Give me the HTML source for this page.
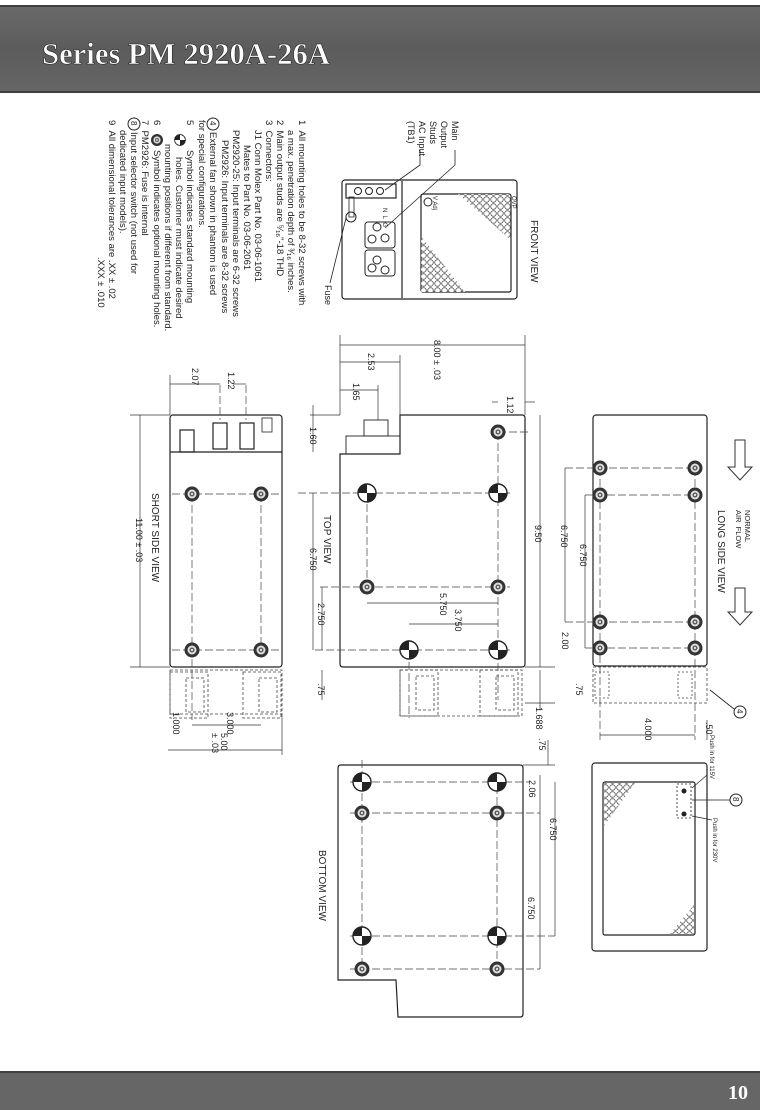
<!DOCTYPE html>
<html><head><meta charset="utf-8"><style>
html,body{margin:0;padding:0;background:#fff;}
svg{display:block;}
text{font-family:"Liberation Sans",sans-serif;fill:#222;}
</style></head><body>
<svg width="760" height="1110" viewBox="0 0 760 1110" xmlns="http://www.w3.org/2000/svg">
<defs>
<linearGradient id="hg" x1="0" y1="0" x2="0" y2="1"><stop offset="0" stop-color="#6a6a6a"/><stop offset="0.5" stop-color="#5c5c5c"/><stop offset="1" stop-color="#666"/></linearGradient>
<g id="ring"><circle r="7.5" fill="#333"/><circle r="4.5" fill="#ddd"/><circle r="2.5" fill="#555"/><circle r="1.2" fill="#ddd"/></g>
<g id="quad"><circle r="9" fill="#fff" stroke="#222" stroke-width="1.4"/><path d="M0,0 L9,0 A9,9 0 0 1 0,9 Z" fill="#222"/><path d="M0,0 L-9,0 A9,9 0 0 1 0,-9 Z" fill="#222"/></g>
<g id="fanA" fill="none" stroke="#444" stroke-width="0.8" stroke-dasharray="3,2"><rect x="0" y="0" width="38" height="46"/><rect x="16" y="6" width="18" height="34"/></g>
<pattern id="hex" width="7" height="7" patternUnits="userSpaceOnUse"><circle cx="3.5" cy="3.5" r="2.8" fill="#fff" stroke="#555" stroke-width="0.8"/></pattern>
</defs>
<rect width="760" height="1110" fill="#fff"/>
<!-- header -->
<rect x="0" y="5" width="760" height="88" fill="url(#hg)"/>
<line x1="0" y1="6" x2="760" y2="6" stroke="#333" stroke-width="1.5"/>
<line x1="0" y1="92" x2="760" y2="92" stroke="#333" stroke-width="1.5"/>
<text x="42" y="64" textLength="288" lengthAdjust="spacingAndGlyphs" style="font-family:'Liberation Serif',serif;font-weight:bold;font-size:31px;fill:#fff;stroke:#222;stroke-width:0.6">Series PM 2920A-26A</text>
<!-- footer -->
<rect x="0" y="1071" width="760" height="39" fill="#666"/>
<line x1="0" y1="1072" x2="760" y2="1072" stroke="#333" stroke-width="1.5"/>
<text x="728" y="1099" style="font-family:'Liberation Serif',serif;font-weight:bold;font-size:20px;fill:#fff">10</text>

<!-- notes -->
<g style="font-size:9.5px">
<text transform="translate(299,120) rotate(90)">1&#160;&#160;All mounting holes to be 8-32 screws with</text>
<text transform="translate(288,130) rotate(90)">a max. penetration depth of ³⁄₁₆ inches.</text>
<text transform="translate(277,120) rotate(90)">2&#160;&#160;Main output studs are ⁵⁄₁₆"-18 THD</text>
<text transform="translate(266,120) rotate(90)">3&#160;&#160;Connectors:</text>
<text transform="translate(255,130) rotate(90)">J1 Conn Molex Part No. 03-06-1061</text>
<text transform="translate(244,145) rotate(90)">Mates to Part No. 03-06-2061</text>
<text transform="translate(233,130) rotate(90)">PM2920-25: Input terminals are 6-32 screws</text>
<text transform="translate(222,140) rotate(90)">PM2926: Input terminals are 8-32 screws</text>
<circle cx="213" cy="124" r="6" fill="none" stroke="#222"/><text transform="translate(210,121) rotate(90)" style="font-size:8px">4</text>
<text transform="translate(210,132) rotate(90)">External fan shown in phantom is used</text>
<text transform="translate(199,120) rotate(90)">for special configurations.</text>
<text transform="translate(187,120) rotate(90)">5</text>
<use href="#quad" transform="translate(180,140) scale(0.6)"/>
<text transform="translate(187,150) rotate(90)">Symbol indicates standard mounting</text>
<text transform="translate(176,157) rotate(90)">holes. Customer must indicate desired</text>
<text transform="translate(165,144) rotate(90)">mounting positions if different from standard.</text>
<text transform="translate(154,120) rotate(90)">6</text>
<use href="#ring" transform="translate(157,140) scale(0.8)"/>
<text transform="translate(154,150) rotate(90)">Symbol indicates optional mounting holes.</text>
<text transform="translate(142,120) rotate(90)">7&#160;&#160;PM2926: Fuse is internal</text>
<circle cx="134" cy="124" r="6" fill="none" stroke="#222"/><text transform="translate(131,121) rotate(90)" style="font-size:8px">8</text>
<text transform="translate(131,132) rotate(90)">Input selector switch (not used for</text>
<text transform="translate(120,130) rotate(90)">dedicated input models).</text>
<text transform="translate(109,120) rotate(90)">9&#160;&#160;All dimensional tolerances are .XX ± .02</text>
<text transform="translate(98,257) rotate(90)">.XXX ± .010</text>
</g>

<g fill="none" stroke="#222" stroke-width="1.2">
<!-- FRONT VIEW -->
<rect x="342" y="180" width="175" height="119" rx="3"/>
<line x1="402" y1="181" x2="402" y2="298"/>
<rect x="421" y="194" width="90" height="98" rx="2"/>
<rect x="346" y="184" width="50" height="14"/>
<rect x="349" y="197" width="5" height="20" stroke-width="0.8"/>
</g>
<path d="M421,236 L421,292 L465,292 Z" fill="url(#hex)"/>
<path d="M511,194 L511,240 L458,194 Z" fill="url(#hex)"/>
<g fill="none" stroke="#222" stroke-width="1">
<circle cx="380" cy="191" r="3.5"/><circle cx="369" cy="191" r="3.5"/><circle cx="358" cy="191" r="3.5"/>
<circle cx="351" cy="217" r="5"/>
<rect x="365" y="222" width="30" height="26" rx="3"/><circle cx="377" cy="227" r="4"/><circle cx="385" cy="238" r="4"/><circle cx="372" cy="239" r="4"/>
<rect x="365" y="250" width="30" height="26" rx="3"/><circle cx="377" cy="260" r="4"/><circle cx="385" cy="270" r="4"/><circle cx="372" cy="268" r="4"/>
<circle cx="428" cy="202" r="4"/>
<path d="M455,150 L455,165 L385,228" stroke-width="0.8"/>
<path d="M420,150 L420,165 L385,190" stroke-width="0.8"/>
<path d="M330,283 L346,218" stroke-width="0.8"/>
</g>
<g style="font-size:9px">
<text transform="translate(452,121) rotate(90)">Main</text>
<text transform="translate(441,121) rotate(90)">Output</text>
<text transform="translate(430,121) rotate(90)">Studs</text>
<text transform="translate(419,121) rotate(90)">AC Input</text>
<text transform="translate(408,121) rotate(90)">(TB1)</text>
<text transform="translate(325,285) rotate(90)">Fuse</text>
<text transform="translate(531,220) rotate(90)" style="font-size:10px">FRONT VIEW</text>
<text transform="translate(383,208) rotate(90)" style="font-size:6px">N&#160;&#160;L&#160;&#160;G</text>
<text transform="translate(433,196) rotate(90)" style="font-size:6px">V Adj</text>
<text transform="translate(512,196) rotate(90)" style="font-size:6px">OVP</text>
</g>

<!-- TOP VIEW -->
<g fill="none" stroke="#222" stroke-width="1.2">
<path d="M400,415 L522,415 Q525,415 525,418 L525,664 Q525,667 522,667 L343,667 Q340,667 340,664 L340,454 L400,454 Z"/>
<rect x="346" y="436" width="54" height="18" stroke-width="0.9"/>
<rect x="364" y="420" width="24" height="16" stroke-width="0.9"/>
</g>
<g stroke="#444" stroke-width="0.7" stroke-dasharray="8,3" fill="none">
<line x1="498" y1="432" x2="498" y2="700"/><line x1="367" y1="493" x2="367" y2="587"/>
<line x1="409" y1="640" x2="409" y2="718"/>
<line x1="298" y1="493" x2="510" y2="493"/><line x1="320" y1="587" x2="510" y2="587"/>
<line x1="315" y1="650" x2="510" y2="650"/>
<line x1="498" y1="432" x2="530" y2="432"/>
</g>
<use href="#ring" x="498" y="432"/><use href="#quad" x="498" y="493"/><use href="#quad" x="367" y="493"/>
<use href="#ring" x="367" y="587"/><use href="#ring" x="498" y="587"/><use href="#quad" x="409" y="650"/><use href="#quad" x="498" y="650"/>
<use href="#fanA" x="400" y="670"/><use href="#fanA" x="480" y="670"/>
<rect x="400" y="670" width="122" height="46" fill="none" stroke="#444" stroke-width="0.8" stroke-dasharray="3,2"/>

<!-- SHORT SIDE VIEW -->
<g fill="none" stroke="#222" stroke-width="1.2">
<rect x="170" y="415" width="112" height="252" rx="3"/>
<line x1="170" y1="452" x2="282" y2="452"/>
<rect x="180" y="430" width="14" height="22"/>
<rect x="213" y="423" width="14" height="26"/><rect x="240" y="423" width="14" height="26"/>
<rect x="262" y="418" width="10" height="14" stroke-width="0.8"/>
</g>
<g stroke="#444" stroke-width="0.7" stroke-dasharray="8,3">
<line x1="192" y1="494" x2="192" y2="720"/><line x1="261" y1="494" x2="261" y2="650"/>
<line x1="172" y1="494" x2="282" y2="494"/><line x1="172" y1="650" x2="282" y2="650"/>
<line x1="220" y1="385" x2="220" y2="420"/><line x1="246" y1="385" x2="246" y2="420"/>
</g>
<use href="#ring" x="192" y="494"/><use href="#ring" x="261" y="494"/><use href="#ring" x="192" y="650"/><use href="#ring" x="261" y="650"/>
<rect x="170" y="670" width="112" height="44" fill="none" stroke="#444" stroke-width="0.8" stroke-dasharray="3,2"/>
<use href="#fanA" x="170" y="672"/><use href="#fanA" x="243" y="672"/>

<!-- LONG SIDE VIEW -->
<g fill="none" stroke="#222" stroke-width="1.2">
<rect x="593" y="415" width="114" height="251" rx="3"/>
</g>
<g stroke="#444" stroke-width="0.7" stroke-dasharray="8,3">
<line x1="565" y1="468" x2="695" y2="468"/><line x1="585" y1="495" x2="695" y2="495"/>
<line x1="565" y1="622" x2="695" y2="622"/><line x1="585" y1="648" x2="695" y2="648"/>
<line x1="695" y1="468" x2="695" y2="648"/><line x1="600" y1="468" x2="600" y2="740"/><line x1="695" y1="648" x2="695" y2="740"/>
</g>
<use href="#ring" x="600" y="468"/><use href="#ring" x="695" y="468"/><use href="#ring" x="600" y="495"/><use href="#ring" x="695" y="495"/>
<use href="#ring" x="600" y="622"/><use href="#ring" x="695" y="622"/><use href="#ring" x="600" y="648"/><use href="#ring" x="695" y="648"/>
<rect x="593" y="667" width="114" height="36" fill="none" stroke="#444" stroke-width="0.8" stroke-dasharray="3,2"/>
<rect x="595" y="672" width="14" height="26" fill="none" stroke="#444" stroke-width="0.8" stroke-dasharray="2,2"/>
<rect x="678" y="672" width="14" height="26" fill="none" stroke="#444" stroke-width="0.8" stroke-dasharray="2,2"/>
<g fill="#fff" stroke="#333" stroke-width="1"><path d="M735,440 L745,440 L745,467 L752,467 L740,480 L728,467 L735,467 Z"/><path d="M735,588 L745,588 L745,612 L752,612 L740,625 L728,612 L735,612 Z"/></g>
<g style="font-size:9px">
<text transform="translate(718,510) rotate(90)" style="font-size:10px">LONG SIDE VIEW</text>
<text transform="translate(745,510) rotate(90)" style="font-size:7.5px">NORMAL</text>
<text transform="translate(736,510) rotate(90)" style="font-size:7.5px">AIR&#160;&#160;FLOW</text>
</g>
<circle cx="740" cy="712" r="6" fill="none" stroke="#222"/><text transform="translate(737,709) rotate(90)" style="font-size:8px">4</text>
<line x1="734" y1="709" x2="710" y2="690" stroke="#222" stroke-width="0.8"/>

<!-- BOTTOM VIEW -->
<g fill="none" stroke="#222" stroke-width="1.2">
<path d="M341,765 L520,765 Q523,765 523,768 L523,1014 Q523,1017 520,1017 L398,1017 L396,980 L338,980 L338,768 Q338,765 341,765 Z"/>
</g>
<g stroke="#444" stroke-width="0.7" stroke-dasharray="8,3">
<line x1="350" y1="782" x2="530" y2="782"/><line x1="350" y1="813" x2="540" y2="813"/>
<line x1="350" y1="936" x2="555" y2="936"/><line x1="350" y1="969" x2="540" y2="969"/>
<line x1="362" y1="760" x2="362" y2="975"/><line x1="497" y1="775" x2="497" y2="975"/>
</g>
<use href="#quad" x="362" y="782"/><use href="#quad" x="497" y="782"/><use href="#ring" x="362" y="813"/><use href="#ring" x="497" y="813"/>
<use href="#quad" x="362" y="936"/><use href="#quad" x="497" y="936"/><use href="#ring" x="362" y="969"/><use href="#ring" x="497" y="969"/>
<text transform="translate(319,850) rotate(90)" style="font-size:10px">BOTTOM VIEW</text>

<!-- REAR / FAN VIEW -->
<g fill="none" stroke="#222" stroke-width="1.2">
<rect x="592" y="763" width="115" height="188" rx="3"/>
<rect x="603" y="782" width="92" height="153" rx="2"/>
<rect x="677" y="784" width="14" height="34" stroke-width="0.8" stroke-dasharray="2,2"/>
</g>
<path d="M604,783 L635,783 L604,826 Z" fill="url(#hex)"/>
<path d="M694,905 L694,934 L670,934 Z" fill="url(#hex)"/>
<circle cx="684" cy="791" r="2.5" fill="#222"/><circle cx="684" cy="814" r="2.5" fill="#222"/>
<circle cx="736" cy="800" r="6" fill="none" stroke="#222"/><text transform="translate(733,797) rotate(90)" style="font-size:8px">8</text>
<g stroke="#222" stroke-width="0.7"><line x1="730" y1="800" x2="692" y2="800"/><line x1="707" y1="775" x2="692" y2="788"/><line x1="712" y1="820" x2="692" y2="816"/></g>
<g style="font-size:6px"><text transform="translate(710,735) rotate(90)">Push in for 115V</text><text transform="translate(713,818) rotate(90)">Push in for 230V</text></g>

<!-- dimension lines -->
<g stroke="#333" stroke-width="0.7" fill="none">
<line x1="340" y1="345" x2="525" y2="345"/><line x1="340" y1="335" x2="340" y2="415"/><line x1="525" y1="335" x2="525" y2="415"/>
<line x1="340" y1="362" x2="400" y2="362"/><line x1="400" y1="355" x2="400" y2="415"/>
<line x1="340" y1="390" x2="378" y2="390"/><line x1="378" y1="385" x2="378" y2="420"/>
<line x1="492" y1="402" x2="498" y2="402"/><line x1="525" y1="402" x2="535" y2="402"/>
<line x1="310" y1="415" x2="340" y2="415"/><line x1="313" y1="405" x2="313" y2="452"/>
<line x1="170" y1="384" x2="220" y2="384"/><line x1="170" y1="375" x2="170" y2="415"/><line x1="233" y1="384" x2="246" y2="384"/>
<line x1="313" y1="493" x2="313" y2="650"/>
<line x1="322" y1="587" x2="322" y2="650"/>
<line x1="540" y1="415" x2="540" y2="667"/><line x1="525" y1="667" x2="555" y2="667"/>
<line x1="367" y1="603" x2="498" y2="603"/><line x1="409" y1="624" x2="498" y2="624"/>
<line x1="565" y1="468" x2="565" y2="622"/><line x1="585" y1="495" x2="585" y2="648"/>
<line x1="140" y1="415" x2="140" y2="667"/><line x1="130" y1="667" x2="170" y2="667"/><line x1="130" y1="415" x2="170" y2="415"/>
<line x1="168" y1="750" x2="282" y2="750"/><line x1="192" y1="725" x2="261" y2="725"/><line x1="282" y1="714" x2="282" y2="755"/>
<line x1="322" y1="670" x2="322" y2="700"/>
<line x1="540" y1="670" x2="540" y2="710"/><line x1="525" y1="703" x2="555" y2="703"/>
<line x1="600" y1="735" x2="695" y2="735"/><line x1="707" y1="720" x2="707" y2="740"/>
<line x1="548" y1="740" x2="548" y2="765"/><line x1="523" y1="765" x2="555" y2="765"/>
<line x1="540" y1="775" x2="540" y2="813"/><line x1="555" y1="782" x2="555" y2="936"/><line x1="540" y1="813" x2="540" y2="969"/>
</g>
<g style="font-size:9px">
<text transform="translate(434,340) rotate(90)">8.00 ± .03</text>
<text transform="translate(368,353) rotate(90)">2.53</text>
<text transform="translate(353,383) rotate(90)">1.65</text>
<text transform="translate(507,396) rotate(90)">1.12</text>
<text transform="translate(310,427) rotate(90)">1.60</text>
<text transform="translate(192,368) rotate(90)">2.07</text>
<text transform="translate(228,372) rotate(90)">1.22</text>
<text transform="translate(324,515) rotate(90)" style="font-size:10px">TOP VIEW</text>
<text transform="translate(310,548) rotate(90)">6.750</text>
<text transform="translate(318,603) rotate(90)">2.750</text>
<text transform="translate(152,493) rotate(90)" style="font-size:10px">SHORT SIDE VIEW</text>
<text transform="translate(136,518) rotate(90)">11.00 ± .03</text>
<text transform="translate(535,525) rotate(90)">9.50</text>
<text transform="translate(440,593) rotate(90)">5.750</text>
<text transform="translate(455,609) rotate(90)">3.750</text>
<text transform="translate(561,525) rotate(90)">6.750</text>
<text transform="translate(580,544) rotate(90)">6.750</text>
<text transform="translate(562,632) rotate(90)">2.00</text>
<text transform="translate(576,683) rotate(90)">.75</text>
<text transform="translate(318,683) rotate(90)">.75</text>
<text transform="translate(536,707) rotate(90)">1.688</text>
<text transform="translate(645,718) rotate(90)">4.000</text>
<text transform="translate(706,722) rotate(90)">.50</text>
<text transform="translate(539,738) rotate(90)">.75</text>
<text transform="translate(173,712) rotate(90)">1.000</text>
<text transform="translate(227,712) rotate(90)">3.000</text>
<text transform="translate(221,733) rotate(90)">5.00</text>
<text transform="translate(212,733) rotate(90)">± .03</text>
<text transform="translate(529,780) rotate(90)">2.06</text>
<text transform="translate(550,818) rotate(90)">6.750</text>
<text transform="translate(528,897) rotate(90)">6.750</text>
</g>
</svg>
</body></html>
